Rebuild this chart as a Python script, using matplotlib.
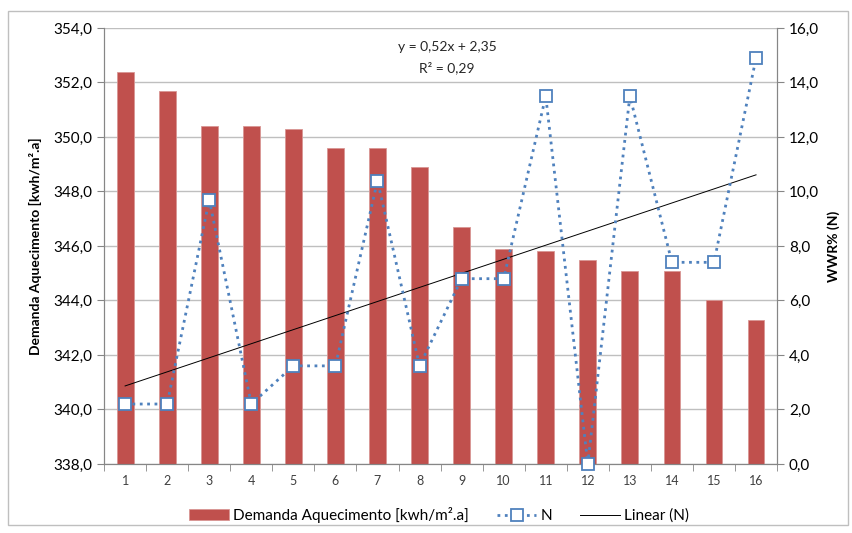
import numpy as np
import matplotlib.pyplot as plt
from matplotlib.patches import Rectangle
from matplotlib.ticker import FuncFormatter, FixedLocator

plt.rcParams['font.family'] = ['Lato', 'DejaVu Sans']

# data
casos = list(range(1, 17))
demanda = [352.4, 351.7, 350.4, 350.4, 350.3, 349.6, 349.6, 348.9,
           346.7, 345.9, 345.8, 345.5, 345.1, 345.1, 344.0, 343.3]
wwr_n = [2.2, 2.2, 9.7, 2.2, 3.6, 3.6, 10.4, 3.6,
         6.8, 6.8, 13.5, 0.0, 13.5, 7.4, 7.4, 14.9]

bar_color = '#C0504D'
line_color = '#4F81BD'
axis_gray = '#868686'

fig = plt.figure(figsize=(8.53, 5.33), dpi=100)
fig.patches.append(Rectangle((0.009, 0.015), 0.985, 0.965, transform=fig.transFigure,
                             fill=False, edgecolor='#BFBFBF', linewidth=1))

ax = fig.add_axes([0.122, 0.1295, 0.789, 0.818])
ax2 = ax.twinx()

x = np.array(casos)
ax.bar(x, demanda, width=0.4, bottom=0, color=bar_color, edgecolor='#D99694',
       linewidth=0.6, zorder=2, label='Demanda Aquecimento [kwh/m².a]')
ax.set_ylim(338, 354)
ax.set_xlim(0.5, 16.5)
ax.set_yticks(np.arange(338, 354.1, 2))
ax.yaxis.set_major_formatter(FuncFormatter(lambda v, p: f'{v:.1f}'.replace('.', ',')))
ax.grid(axis='y', color='#BFBFBF', linewidth=1, zorder=0)
ax.set_axisbelow(True)

# category ticks on boundaries, labels at centres
ax.set_xticks(x)
ax.xaxis.set_minor_locator(FixedLocator(np.arange(0.5, 16.6, 1)))
ax.tick_params(axis='x', which='major', length=0, labelsize=9, pad=8, labelcolor='#404040')
ax.tick_params(axis='x', which='minor', length=5, color=axis_gray, direction='out')
ax.tick_params(axis='y', length=5, color=axis_gray, labelsize=11)

ax.spines['top'].set_visible(False)
ax2.spines['top'].set_visible(False)
for s in ['left', 'bottom', 'right']:
    ax.spines[s].set_color(axis_gray)
    ax2.spines[s].set_color(axis_gray)

ax.set_ylabel('Demanda Aquecimento [kwh/m².a]', fontsize=10, fontweight='bold', labelpad=8)

# N series and linear trend on secondary axis
ax2.plot(x, wwr_n, linestyle=':', color=line_color, linewidth=2,
         marker='s', markersize=9, markerfacecolor='white',
         markeredgecolor=line_color, markeredgewidth=1.3, zorder=4,
         clip_on=False, label='N')
coef = np.polyfit(x, wwr_n, 1)
ax2.plot(x, np.polyval(coef, x), color='black', linewidth=0.7, zorder=3, label='Linear (N)')
ax2.set_ylim(0, 16)
ax2.set_yticks(np.arange(0, 16.1, 2))
ax2.yaxis.set_major_formatter(FuncFormatter(lambda v, p: f'{v:.1f}'.replace('.', ',')))
ax2.tick_params(axis='y', length=5, color=axis_gray, labelsize=11)
ax2.set_ylabel('WWR% (N)', fontsize=10, fontweight='bold', labelpad=6)

ax.text(8.65, 353.3, 'y = 0,52x + 2,35', ha='center', va='center', fontsize=10, color='#262626')
ax.text(8.65, 352.55, 'R² = 0,29', ha='center', va='center', fontsize=10, color='#262626')

h1, l1 = ax.get_legend_handles_labels()
h2, l2 = ax2.get_legend_handles_labels()
fig.legend(h1 + h2, l1 + l2, loc='center', bbox_to_anchor=(0.515, 0.034), ncol=3,
           frameon=False, fontsize=11, handlelength=2.6, handletextpad=0.3,
           columnspacing=1.8)

plt.savefig('out.png', dpi=100)
